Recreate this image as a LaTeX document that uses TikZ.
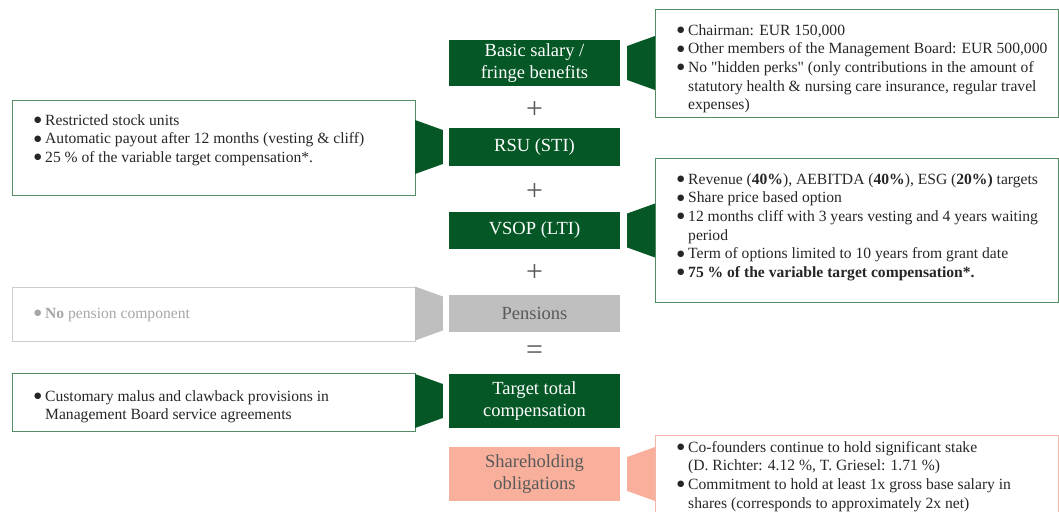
\documentclass[tikz,border=0pt]{standalone}
\usepackage{fontspec}
\setmainfont{Liberation Serif}
\newfontfamily\bulletfont{DejaVu Sans}
\usepackage{tikz}
\usetikzlibrary{positioning, calc}
\definecolor{compgreen}{RGB}{5, 87, 38}
\definecolor{framegreen}{RGB}{84, 140, 100}
\definecolor{pensgrey}{RGB}{191, 191, 191}
\definecolor{framegrey}{RGB}{205, 205, 205}
\definecolor{salmon}{RGB}{248, 176, 156}
\definecolor{framesalmon}{RGB}{244, 184, 170}
\definecolor{bodytext}{RGB}{38, 38, 38}
\definecolor{greytext}{RGB}{89, 89, 89}
\definecolor{lighttext}{RGB}{166, 166, 166}
\newcommand{\bul}{\makebox[11pt][l]{\raisebox{2.5pt}{\fontsize{8.5}{8.5}\bulletfont ●}}}
\newcommand{\cont}{\hspace*{11pt}}
\newcommand{\sq}{{\addfontfeature{Ligatures=TeXOff}"}}

\begin{document}
\begin{tikzpicture}[
    x=1pt, y=-1pt,
    compbox/.style={rectangle, fill=compgreen, text=white, minimum width=171pt, inner sep=0pt, align=center, font=\fontsize{18.5}{22.5}\selectfont},
    descbox/.style={rectangle, draw=framegreen, line width=0.9pt, minimum width=403pt, anchor=north west, inner sep=0pt, outer sep=0pt},
    desctext/.style={anchor=north west, align=left, inner sep=0pt, text=bodytext, font=\fontsize{15.6}{18.6}\selectfont},
    opsign/.style={text=greytext, inner sep=0pt, font=\fontsize{30}{30}\selectfont}
]
\useasboundingbox (0,0) rectangle (1059,511);

% compensation components
\node[compbox, minimum height=46pt] (base) at (534.5,63) {Basic salary /\\fringe benefits};
\node[compbox, minimum height=38pt] (rsu) at (534.5,147) {RSU (STI)};
\node[compbox, minimum height=37pt] (vsop) at (534.5,230.5) {VSOP (LTI)};
\node[compbox, minimum height=37pt, fill=pensgrey, text=greytext] (pens) at (534.5,313.5) {Pensions};
\node[compbox, minimum height=54pt] (ttc) at (534.5,401) {Target total\\compensation};
\node[compbox, minimum height=54pt, fill=salmon, text=greytext] (share) at (534.5,474) {Shareholding\\obligations};

\node[opsign] (plus1) at (534.5,110) {+};
\node[opsign] (plus2) at (534.5,192) {+};
\node[opsign] (plus3) at (534.5,273) {+};
\node[opsign] (equals) at (534.5,353) {=};

% description boxes
\node[descbox, minimum height=108pt] (basedesc) at (655,9) {};
\node[descbox, minimum height=95pt] (rsudesc) at (12,100) {};
\node[descbox, minimum height=144pt] (vsopdesc) at (655,158) {};
\node[descbox, draw=framegrey, minimum height=54pt] (pensdesc) at (12,287) {};
\node[descbox, minimum height=58pt] (clawdesc) at (12,373) {};
\node[descbox, draw=framesalmon, minimum height=100pt] (sharedesc) at (655,435) {};

\node[desctext, below right=13pt and 22pt of basedesc.north west] (basetext) {\strut\bul Chairman: EUR 150,000\\
  \bul Other members of the Management Board: EUR 500,000\\
  \bul No \sq hidden perks\sq{} (only contributions in the amount of\\
  \cont statutory health \& nursing care insurance, regular travel\\
  \cont expenses)};
\node[desctext, below right=12pt and 22pt of rsudesc.north west] (rsutext) {\strut\bul Restricted stock units\\
  \bul Automatic payout after 12 months (vesting \& cliff)\\
  \bul 25 \% of the variable target compensation*.};
\node[desctext, below right=13pt and 22pt of vsopdesc.north west] (vsoptext) {\strut\bul Revenue (\textbf{40\%}), AEBITDA (\textbf{40\%}), ESG (\textbf{20\%)} targets\\
  \bul Share price based option\\
  \bul 12 months cliff with 3 years vesting and 4 years waiting\\
  \cont period\\
  \bul Term of options limited to 10 years from grant date\\
  \textbf{\bul 75 \% of the variable target compensation*.}};
\node[desctext, text=lighttext, below right=18pt and 22pt of pensdesc.north west] (penstext) {\strut\bul \textbf{No} pension component};
\node[desctext, below right=15pt and 22pt of clawdesc.north west] (clawtext) {\strut\bul Customary malus and clawback provisions in\\
  \cont Management Board service agreements};
\node[desctext, below right=4pt and 22pt of sharedesc.north west] (sharetext) {\strut\bul Co-founders continue to hold significant stake\\
  \cont (D. Richter: 4.12 \%, T. Griesel: 1.71 \%)\\
  \bul Commitment to hold at least 1x gross base salary in\\
  \cont shares (corresponds to approximately 2x net)};

% pointers from the descriptions to the components
\foreach \cname/\dname/\col in {base/basedesc/compgreen, vsop/vsopdesc/compgreen, share/sharedesc/salmon} {
    \fill[\col] ($(\cname.east)+(7,-17)$) -- ($(\dname.west |- \cname.center)+(0,-27)$) -- ($(\dname.west |- \cname.center)+(0,27)$) -- ($(\cname.east)+(7,17)$) -- cycle;
}
\foreach \cname/\dname/\col in {rsu/rsudesc/compgreen, pens/pensdesc/pensgrey, ttc/clawdesc/compgreen} {
    \fill[\col] ($(\cname.west)+(-6,-17)$) -- ($(\dname.east |- \cname.center)+(0,-27)$) -- ($(\dname.east |- \cname.center)+(0,27)$) -- ($(\cname.west)+(-6,17)$) -- cycle;
}

\end{tikzpicture}
\end{document}
